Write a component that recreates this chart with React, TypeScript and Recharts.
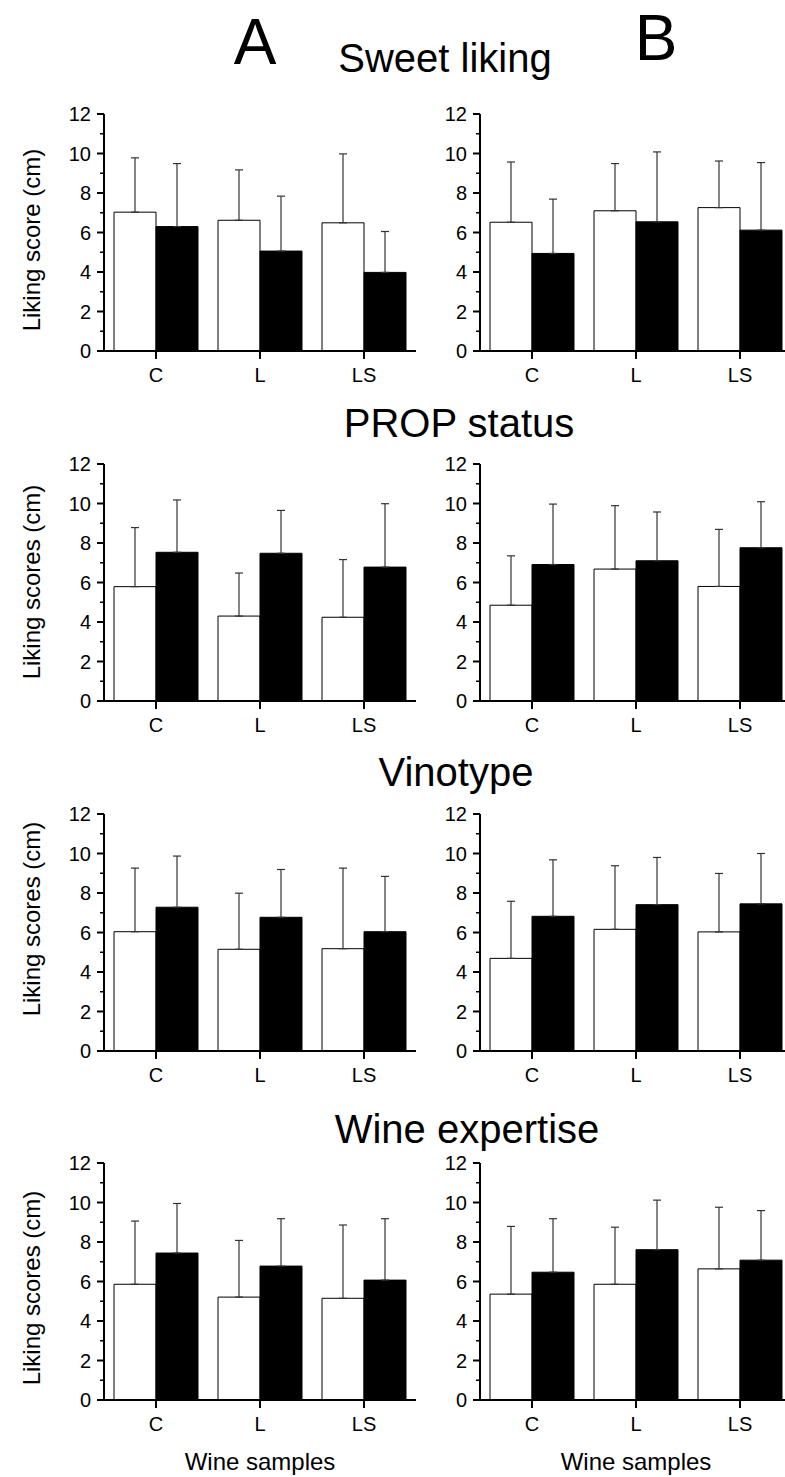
import React from 'react';
import { BarChart, Bar, XAxis, YAxis, ErrorBar } from 'recharts';

const CATEGORIES = ['C', 'L', 'LS'];
const Y_TICKS = [0, 1, 2, 3, 4, 5, 6, 7, 8, 9, 10, 11, 12];

// Sweet liking
const SWEET_A_OPEN = [7.03, 6.62, 6.49];
const SWEET_A_OPEN_SD = [2.75, 2.55, 3.49];
const SWEET_A_FILLED = [6.3, 5.06, 3.98];
const SWEET_A_FILLED_SD = [3.19, 2.78, 2.07];
const SWEET_B_OPEN = [6.52, 7.1, 7.26];
const SWEET_B_OPEN_SD = [3.05, 2.39, 2.36];
const SWEET_B_FILLED = [4.94, 6.54, 6.12];
const SWEET_B_FILLED_SD = [2.75, 3.54, 3.42];

// PROP status
const PROP_A_OPEN = [5.79, 4.3, 4.24];
const PROP_A_OPEN_SD = [2.99, 2.18, 2.92];
const PROP_A_FILLED = [7.53, 7.48, 6.78];
const PROP_A_FILLED_SD = [2.65, 2.17, 3.21];
const PROP_B_OPEN = [4.85, 6.68, 5.8];
const PROP_B_OPEN_SD = [2.5, 3.21, 2.89];
const PROP_B_FILLED = [6.91, 7.1, 7.76];
const PROP_B_FILLED_SD = [3.06, 2.47, 2.33];

// Vinotype
const VINO_A_OPEN = [6.04, 5.15, 5.18];
const VINO_A_OPEN_SD = [3.22, 2.84, 4.08];
const VINO_A_FILLED = [7.28, 6.77, 6.04];
const VINO_A_FILLED_SD = [2.59, 2.42, 2.8];
const VINO_B_OPEN = [4.69, 6.16, 6.03];
const VINO_B_OPEN_SD = [2.89, 3.22, 2.96];
const VINO_B_FILLED = [6.82, 7.41, 7.45];
const VINO_B_FILLED_SD = [2.86, 2.39, 2.55];

// Wine expertise
const EXP_A_OPEN = [5.86, 5.21, 5.15];
const EXP_A_OPEN_SD = [3.2, 2.87, 3.71];
const EXP_A_FILLED = [7.44, 6.78, 6.07];
const EXP_A_FILLED_SD = [2.51, 2.4, 3.11];
const EXP_B_OPEN = [5.36, 5.86, 6.64];
const EXP_B_OPEN_SD = [3.43, 2.89, 3.12];
const EXP_B_FILLED = [6.47, 7.61, 7.08];
const EXP_B_FILLED_SD = [2.71, 2.51, 2.51];

const FONT = '"Liberation Sans", Arial, Helvetica, sans-serif';
const YAXIS_W = 60;
const PLOT_W = 312;
const PLOT_H = 237;
const TOP_PAD = 12;
const XAXIS_H = 40;

const buildData = (open: number[], openSd: number[], filled: number[], filledSd: number[]) =>
    CATEGORIES.map((cat, i) => ({
        cat,
        open: open[i],
        openErr: [0, openSd[i]],
        filled: filled[i],
        filledErr: [0, filledSd[i]],
    }));

const YTick = (props: any) => {
    const { x, y, payload } = props;
    const v = payload.value;
    const major = v % 2 === 0;
    return (
        <g>
            <line x1={x - (major ? 7 : 4)} x2={x} y1={y} y2={y} stroke="#000" strokeWidth={major ? 2 : 1.5} />
            {major && (
                <text x={x - 13} y={y} dy="0.35em" textAnchor="end" fontSize={20} fill="#000" fontFamily={FONT}>
                    {v}
                </text>
            )}
        </g>
    );
};

const Panel: React.FC<{ left: number; top: number; data: any[] }> = ({ left, top, data }) => (
    <div style={{ position: 'absolute', left: left - YAXIS_W, top: top - TOP_PAD }}>
        <BarChart
            width={YAXIS_W + PLOT_W + 4}
            height={TOP_PAD + PLOT_H + XAXIS_H}
            data={data}
            margin={{ top: TOP_PAD, right: 4, bottom: 0, left: 0 }}
            barCategoryGap={10}
            barGap={0}
        >
            <XAxis
                dataKey="cat"
                height={XAXIS_H}
                axisLine={{ stroke: '#000', strokeWidth: 2 }}
                tickLine={{ stroke: '#000', strokeWidth: 2 }}
                tickSize={8}
                tickMargin={9}
                tick={{ fontSize: 20, fill: '#000', fontFamily: FONT }}
            />
            <YAxis
                width={YAXIS_W}
                domain={[0, 12]}
                ticks={Y_TICKS}
                interval={0}
                allowDataOverflow
                axisLine={{ stroke: '#000', strokeWidth: 2 }}
                tickLine={false}
                tickSize={0}
                tickMargin={0}
                tick={<YTick />}
            />
            <Bar dataKey="open" fill="#fff" stroke="#000" strokeWidth={1} isAnimationActive={false}>
                <ErrorBar dataKey="openErr" width={4} stroke="#333" strokeWidth={1.2} direction="y" />
            </Bar>
            <Bar dataKey="filled" fill="#000" stroke="#000" strokeWidth={1} isAnimationActive={false}>
                <ErrorBar dataKey="filledErr" width={4} stroke="#333" strokeWidth={1.2} direction="y" />
            </Bar>
        </BarChart>
    </div>
);

const ROW_TOPS = [114, 464, 813.5, 1163];
const LEFT_A = 104;
const LEFT_B = 480.3;

const App: React.FC = () => {
    const panels = [
        { left: LEFT_A, top: ROW_TOPS[0], data: buildData(SWEET_A_OPEN, SWEET_A_OPEN_SD, SWEET_A_FILLED, SWEET_A_FILLED_SD) },
        { left: LEFT_B, top: ROW_TOPS[0], data: buildData(SWEET_B_OPEN, SWEET_B_OPEN_SD, SWEET_B_FILLED, SWEET_B_FILLED_SD) },
        { left: LEFT_A, top: ROW_TOPS[1], data: buildData(PROP_A_OPEN, PROP_A_OPEN_SD, PROP_A_FILLED, PROP_A_FILLED_SD) },
        { left: LEFT_B, top: ROW_TOPS[1], data: buildData(PROP_B_OPEN, PROP_B_OPEN_SD, PROP_B_FILLED, PROP_B_FILLED_SD) },
        { left: LEFT_A, top: ROW_TOPS[2], data: buildData(VINO_A_OPEN, VINO_A_OPEN_SD, VINO_A_FILLED, VINO_A_FILLED_SD) },
        { left: LEFT_B, top: ROW_TOPS[2], data: buildData(VINO_B_OPEN, VINO_B_OPEN_SD, VINO_B_FILLED, VINO_B_FILLED_SD) },
        { left: LEFT_A, top: ROW_TOPS[3], data: buildData(EXP_A_OPEN, EXP_A_OPEN_SD, EXP_A_FILLED, EXP_A_FILLED_SD) },
        { left: LEFT_B, top: ROW_TOPS[3], data: buildData(EXP_B_OPEN, EXP_B_OPEN_SD, EXP_B_FILLED, EXP_B_FILLED_SD) },
    ];

    const titles = [
        { text: 'Sweet liking', x: 445, y: 72 },
        { text: 'PROP status', x: 459, y: 437 },
        { text: 'Vinotype', x: 456, y: 786 },
        { text: 'Wine expertise', x: 467, y: 1143 },
    ];
    const yLabels = [
        { text: 'Liking score (cm)', y: 240 },
        { text: 'Liking scores (cm)', y: 582 },
        { text: 'Liking scores (cm)', y: 919 },
        { text: 'Liking scores (cm)', y: 1288 },
    ];

    return (
        <div
            style={{
                position: 'absolute', left: 0, top: 0, width: 785, height: 1477,
                overflow: 'hidden', background: '#fff', fontFamily: FONT,
            }}
        >
            {panels.map((p, i) => (
                <Panel key={i} left={p.left} top={p.top} data={p.data} />
            ))}
            <svg width={785} height={1477} style={{ position: 'absolute', left: 0, top: 0, pointerEvents: 'none' }}>
                <g fontFamily={FONT} fill="#000">
                    <text x={255} y={64} fontSize={64} textAnchor="middle">A</text>
                    <text x={656} y={60} fontSize={64} textAnchor="middle">B</text>
                    {titles.map((t) => (
                        <text key={t.text} x={t.x} y={t.y} fontSize={40} textAnchor="middle">{t.text}</text>
                    ))}
                    {yLabels.map((l, i) => (
                        <text key={i} x={40} y={l.y} fontSize={24} textAnchor="middle" transform={`rotate(-90, 40, ${l.y})`}>
                            {l.text}
                        </text>
                    ))}
                    <text x={260} y={1470} fontSize={24} textAnchor="middle">Wine samples</text>
                    <text x={636} y={1470} fontSize={24} textAnchor="middle">Wine samples</text>
                </g>
            </svg>
        </div>
    );
};

export default App;
